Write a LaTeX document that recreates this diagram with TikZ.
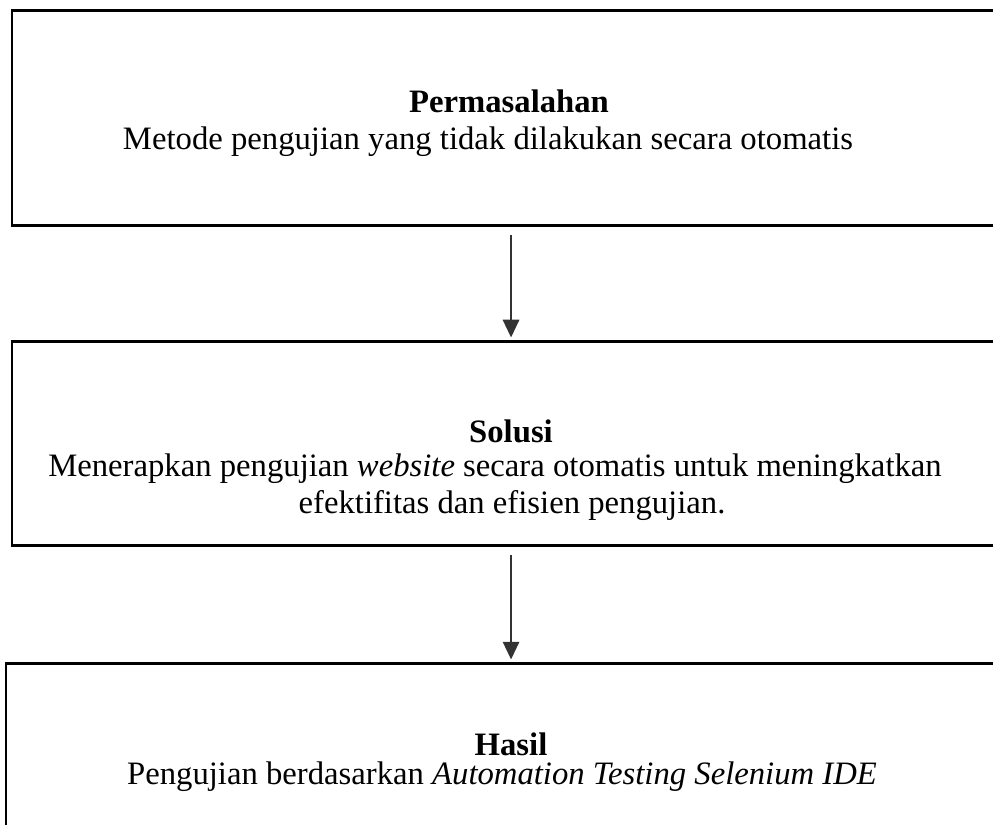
\documentclass[tikz,border=0pt]{standalone}
\usepackage{fontspec}
\setmainfont{Liberation Serif}
\usetikzlibrary{positioning, arrows.meta}

\begin{document}
\begin{tikzpicture}[
    x=0.367pt, y=-0.367pt,
    >={Triangle[width=6pt, length=6.5pt]},
    stage/.style={draw, line width=1.1pt, inner sep=0pt, outer sep=0pt, anchor=north west},
    label/.style={inner sep=0pt, font=\fontsize{12pt}{14pt}\selectfont},
    flow/.style={->, line width=0.7pt, black!80}
]
\useasboundingbox (0,0) rectangle (993,824);

% kotak
\node[stage, minimum width=366.3pt, minimum height=78.9pt] (masalah) at (12,11) {};
\node[stage, minimum width=366.3pt, minimum height=75.2pt] (solusi) at (12,341) {};
\node[stage, minimum width=368.5pt, minimum height=87pt] (hasil) at (6,663) {};

% teks
\node[label, font=\fontsize{12pt}{14pt}\selectfont\bfseries] (tMasalah) at (509,101) {Permasalahan};
\node[label] (dMasalah) at (488,142) {Metode pengujian yang tidak dilakukan secara otomatis};
\node[label, font=\fontsize{12pt}{14pt}\selectfont\bfseries] (tSolusi) at (511,431) {Solusi};
\node[label] (dSolusi1) at (495,469) {Menerapkan pengujian \textit{website} secara otomatis untuk meningkatkan};
\node[label] (dSolusi2) at (512,506) {efektifitas dan efisien pengujian.};
\node[label, font=\fontsize{12pt}{14pt}\selectfont\bfseries] (tHasil) at (511,744) {Hasil};
\node[label] (dHasil) at (502,777) {Pengujian berdasarkan \textit{Automation Testing Selenium IDE}};

% panah
\draw[flow, shorten <=3.3pt, shorten >=1.3pt] (masalah.south) -- (solusi.north);
\draw[flow, shorten <=3.3pt, shorten >=1.3pt] (solusi.south) -- (hasil.north -| solusi.south);

\end{tikzpicture}
\end{document}
